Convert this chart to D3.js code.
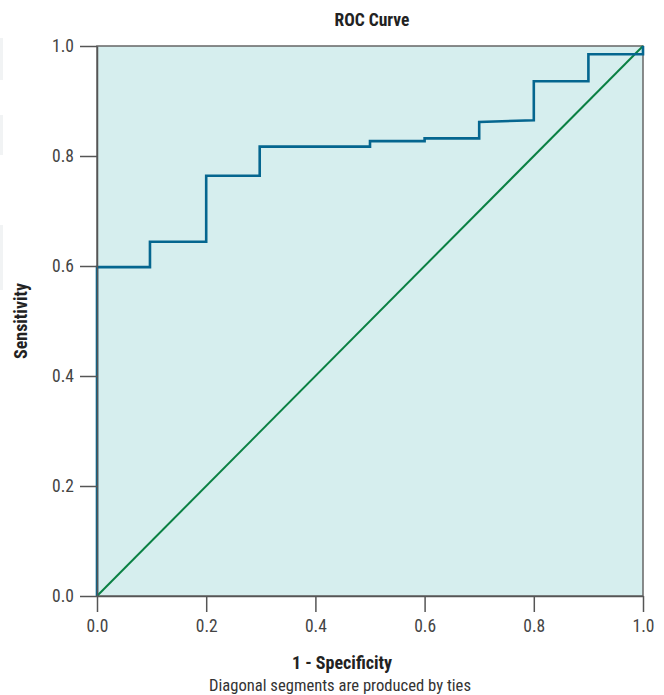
<!DOCTYPE html>
<html>
<head>
<meta charset="utf-8">
<script src="https://cdn.jsdelivr.net/npm/d3@7"></script>
<style>
  body { margin: 0; background: #fff; }
  svg text { font-family: "Liberation Sans Narrow", "Roboto Condensed", "Roboto", sans-serif; }
  .axis path, .axis line { stroke: #555; }
</style>
</head>
<body>
<div id="chart"></div>
<script>
// ROC curve vertices (1 - specificity, sensitivity)
const fpr = [0, 0, 0.097, 0.097, 0.2, 0.2, 0.298, 0.298, 0.5, 0.5, 0.6, 0.6, 0.7, 0.7, 0.8, 0.8, 0.9, 0.9, 1, 1];
const tpr = [0, 0.598, 0.598, 0.644, 0.644, 0.764, 0.764, 0.817, 0.817, 0.827, 0.827, 0.832, 0.832, 0.862, 0.865, 0.936, 0.936, 0.985, 0.985, 1];
const refLine = [0, 1];
const tickValues = [0, 0.2, 0.4, 0.6, 0.8, 1.0];

const width = 664, height = 695;
const margin = { top: 46, right: 21, bottom: 99, left: 97 };
const w = width - margin.left - margin.right;
const h = height - margin.top - margin.bottom;

const svg = d3.select("#chart").append("svg")
  .attr("width", width)
  .attr("height", height);

// faint page fragments at the left edge
[[38, 42], [115, 40], [225, 65]].forEach(([y, hh]) => {
  svg.append("rect").attr("x", 0).attr("y", y).attr("width", 3).attr("height", hh).attr("fill", "#f1f3f4");
});

const g = svg.append("g").attr("transform", `translate(${margin.left},${margin.top})`);

const x = d3.scaleLinear().domain([0, 1]).range([0, w]);
const y = d3.scaleLinear().domain([0, 1]).range([h, 0]);

g.append("rect")
  .attr("width", w).attr("height", h)
  .attr("fill", "#d6eeee")
  .attr("stroke", "#666")
  .attr("stroke-width", 1.5);

g.append("line")
  .attr("x1", x(refLine[0])).attr("y1", y(refLine[0]))
  .attr("x2", x(refLine[1])).attr("y2", y(refLine[1]))
  .attr("stroke", "#0a8043")
  .attr("stroke-width", 2);

const pts = fpr.map((d, i) => [d, tpr[i]]);
g.append("path")
  .datum(pts)
  .attr("fill", "none")
  .attr("stroke", "#05668f")
  .attr("stroke-width", 2.6)
  .attr("d", d3.line().x(d => x(d[0])).y(d => y(d[1])));

const fmt = d3.format(".1f");
g.append("g")
  .attr("class", "axis")
  .attr("transform", `translate(0,${h})`)
  .call(d3.axisBottom(x).tickValues(tickValues).tickFormat(fmt).tickSize(16).tickSizeOuter(0).tickPadding(8))
  .call(a => a.selectAll("line, path").attr("stroke-width", 1.5));

g.append("g")
  .attr("class", "axis")
  .call(d3.axisLeft(y).tickValues(tickValues).tickFormat(fmt).tickSize(17).tickSizeOuter(0).tickPadding(6))
  .call(a => a.selectAll("line, path").attr("stroke-width", 1.5));

g.selectAll(".axis text").attr("fill", "#444").style("font-size", "17.5px");

svg.append("text")
  .attr("x", 372).attr("y", 26)
  .attr("text-anchor", "middle")
  .attr("font-weight", "bold")
  .attr("font-size", 17.5)
  .attr("fill", "#222")
  .text("ROC Curve");

svg.append("text")
  .attr("x", 342).attr("y", 669)
  .attr("text-anchor", "middle")
  .attr("font-weight", "bold")
  .attr("font-size", 18)
  .attr("fill", "#222")
  .text("1 - Specificity");

svg.append("text")
  .attr("x", 340).attr("y", 691)
  .attr("text-anchor", "middle")
  .attr("font-size", 16.6)
  .attr("fill", "#333")
  .text("Diagonal segments are produced by ties");

svg.append("text")
  .attr("transform", `translate(27,${margin.top + h / 2}) rotate(-90)`)
  .attr("text-anchor", "middle")
  .attr("font-weight", "bold")
  .attr("font-size", 18)
  .attr("fill", "#222")
  .text("Sensitivity");
</script>
</body>
</html>
